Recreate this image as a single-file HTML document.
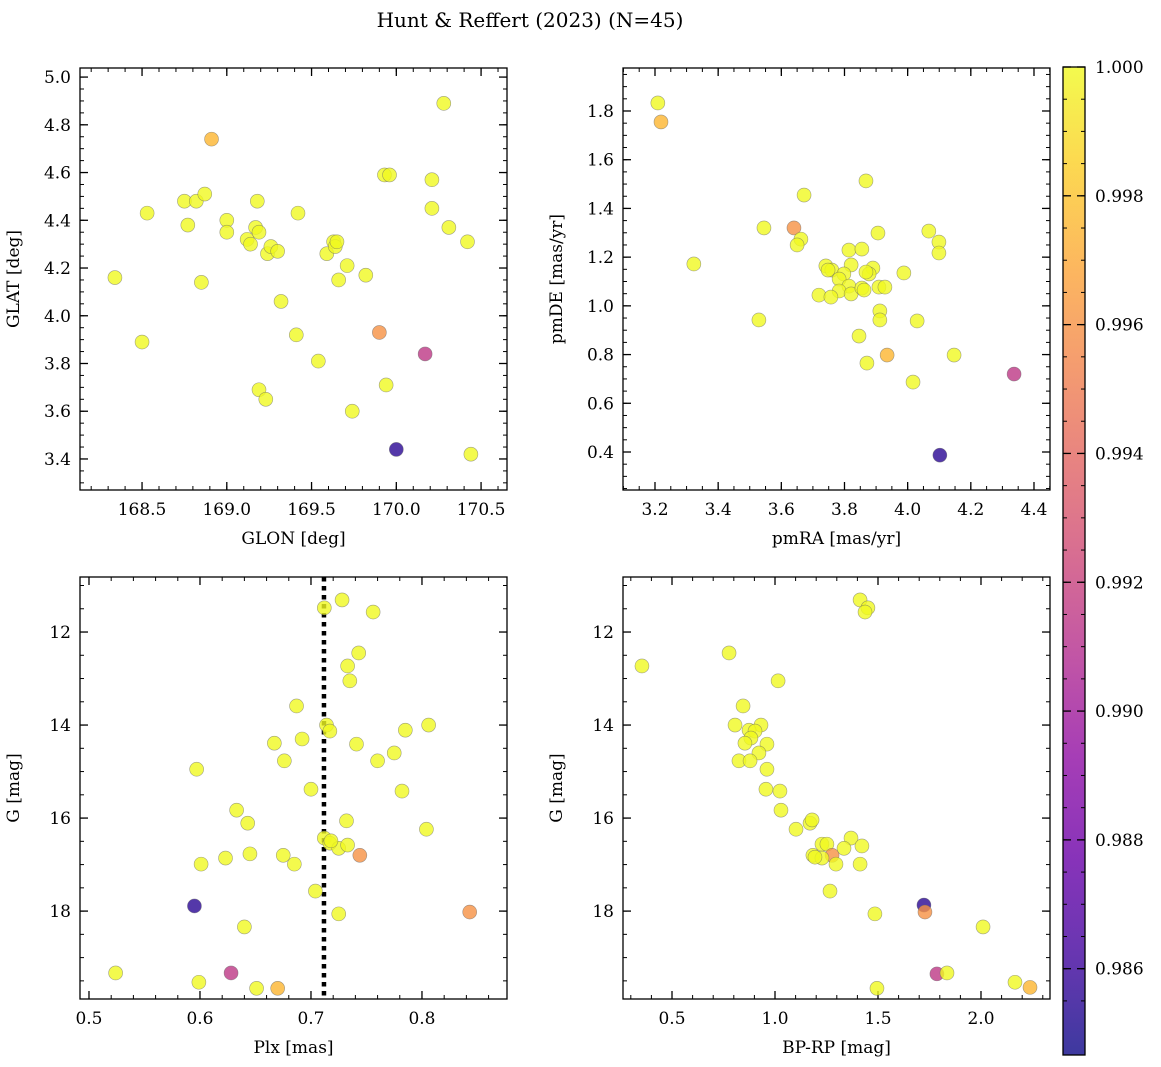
<!DOCTYPE html>
<html><head><meta charset="utf-8">
<style>
html,body{margin:0;padding:0;background:#fff;}
svg{display:block;font-family:"DejaVu Serif","Liberation Serif",serif;}
</style></head>
<body>
<svg id="chart" width="1161" height="1067" viewBox="0 0 1161 1067" xmlns="http://www.w3.org/2000/svg">
<text x="530" y="27" text-anchor="middle" font-size="20">Hunt &amp; Reffert (2023) (N=45)</text>
</svg>
<script>
// ---- data ----
const glon = [168.34,168.50,168.53,168.75,168.77,168.82,168.87,168.91,168.85,169.00,169.00,169.12,169.14,169.17,169.18,169.19,169.19,169.23,169.24,169.26,169.30,169.32,169.42,169.41,169.54,169.59,169.63,169.64,169.65,169.66,169.71,169.74,169.82,169.90,169.93,169.96,169.94,170.00,170.17,170.21,170.21,170.28,170.31,170.42,170.44];
const glat = [4.16,3.89,4.43,4.48,4.38,4.48,4.51,4.74,4.14,4.40,4.35,4.32,4.30,4.37,4.48,4.35,3.69,3.65,4.26,4.29,4.27,4.06,4.43,3.92,3.81,4.26,4.31,4.29,4.31,4.15,4.21,3.60,4.17,3.93,4.59,4.59,3.71,3.44,3.84,4.57,4.45,4.89,4.37,4.31,3.42];
const probSky = [1,1,1,1,1,1,1,0.9975,1,1,1,1,1,1,1,1,1,1,1,1,1,1,1,1,1,1,1,1,1,1,1,1,1,0.996,1,1,1,0.9855,0.9915,1,1,1,1,1,1];

const pmra = [3.209,3.219,3.868,3.672,3.545,3.640,3.662,3.650,3.906,4.067,4.099,4.099,3.323,3.814,3.855,3.741,3.760,3.821,3.798,3.783,3.890,3.878,3.988,3.814,3.783,3.821,3.719,3.757,3.855,3.862,3.909,3.928,3.912,3.912,4.030,3.529,3.846,3.935,3.871,4.147,4.017,4.337,4.102,3.748,3.868];
const pmde = [1.833,1.755,1.513,1.455,1.320,1.320,1.274,1.250,1.299,1.307,1.262,1.217,1.172,1.229,1.233,1.164,1.147,1.168,1.131,1.110,1.155,1.131,1.135,1.081,1.061,1.049,1.044,1.036,1.073,1.065,1.077,1.077,0.979,0.942,0.938,0.942,0.876,0.798,0.765,0.798,0.687,0.720,0.387,1.147,1.139];
const probPm = [1,0.9975,1,1,1,0.996,1,1,1,1,1,1,1,1,1,1,1,1,1,1,1,1,1,1,1,1,1,1,1,1,1,1,1,1,1,1,1,0.9975,1,1,1,0.9915,0.9855,1,1];

const plx = [0.524,0.595,0.597,0.601,0.599,0.623,0.628,0.633,0.640,0.643,0.645,0.651,0.667,0.670,0.675,0.676,0.685,0.687,0.692,0.700,0.704,0.712,0.712,0.714,0.717,0.717,0.725,0.725,0.728,0.732,0.733,0.733,0.735,0.741,0.744,0.743,0.756,0.760,0.775,0.782,0.785,0.806,0.804,0.843,0.718];
const gPlx = [19.33,17.89,14.95,16.99,19.53,16.86,19.33,15.83,18.34,16.11,16.77,19.66,14.39,19.66,16.80,14.77,16.99,13.59,14.30,15.38,17.57,11.48,16.43,14.00,14.13,16.54,16.65,18.06,11.31,16.06,12.73,16.58,13.05,14.41,16.80,12.45,11.57,14.77,14.60,15.42,14.11,14.00,16.24,18.02,16.49];
const probPlx = [1,0.9855,1,1,1,1,0.9915,1,1,1,1,1,1,0.9975,1,1,1,1,1,1,1,1,1,1,1,1,1,1,1,1,1,1,1,1,0.996,1,1,1,1,1,1,1,1,0.996,1];
const meanPlx = 0.7117;

const bprp = [1.413,1.451,1.437,0.777,0.354,1.015,0.845,0.806,0.932,0.874,0.903,0.883,0.854,0.961,0.922,0.825,0.879,0.961,0.956,1.024,1.029,1.170,1.180,1.102,1.228,1.252,1.369,1.335,1.422,1.184,1.277,1.228,1.296,1.413,1.267,1.485,1.723,1.728,2.010,1.786,1.835,2.165,1.495,2.238,1.194];
const gCmd = [11.31,11.48,11.57,12.45,12.73,13.05,13.59,14.00,14.00,14.11,14.13,14.28,14.39,14.41,14.60,14.77,14.77,14.95,15.38,15.42,15.83,16.11,16.04,16.24,16.56,16.56,16.43,16.65,16.60,16.80,16.80,16.86,16.99,16.99,17.57,18.06,17.87,18.02,18.34,19.35,19.33,19.53,19.66,19.64,16.84];
const probCmd = [1,1,1,1,1,1,1,1,1,1,1,1,1,1,1,1,1,1,1,1,1,1,1,1,1,1,1,1,1,1,0.996,1,1,1,1,1,0.9855,0.996,1,0.9915,1,1,1,0.9975,1];

const cbTicks = [0.986,0.988,0.990,0.992,0.994,0.996,0.998,1.000];
const vmin = 0.98466, vmax = 1.0;

// ---- helpers ----
const NS = "http://www.w3.org/2000/svg";
const svg = document.getElementById('chart');
function mk(tag, attrs, parent){const e=document.createElementNS(NS,tag);for(const k in attrs)e.setAttribute(k,attrs[k]);(parent||svg).appendChild(e);return e;}
const stops=[[0,13,8,135],[0.1,65,4,157],[0.2,106,0,168],[0.3,143,13,164],[0.4,177,42,144],[0.5,204,71,120],[0.6,225,100,98],[0.7,242,132,75],[0.8,252,166,54],[0.9,252,206,37],[1,240,249,33]];
function plasma(t){t=Math.max(0,Math.min(1,t));for(let i=1;i<stops.length;i++){if(t<=stops[i][0]){const a=stops[i-1],b=stops[i],f=(t-a[0])/(b[0]-a[0]);return `rgb(${Math.round(a[1]+f*(b[1]-a[1]))},${Math.round(a[2]+f*(b[2]-a[2]))},${Math.round(a[3]+f*(b[3]-a[3]))})`;}}return 'rgb(240,249,33)';}
function cval(v){return plasma((v-vmin)/(vmax-vmin));}

function panel(o){
  const [L,T,R,B]=o.box;
  const g=mk('g',{});
  
  
  const sx=v=>L+(v-o.xr[0])/(o.xr[1]-o.xr[0])*(R-L);
  const sy=o.invert? v=>T+(v-o.yr[0])/(o.yr[1]-o.yr[0])*(B-T) : v=>B-(v-o.yr[0])/(o.yr[1]-o.yr[0])*(B-T);
  const eps=1e-9;
  for(let v=Math.ceil(o.xr[0]/o.xminor-eps)*o.xminor; v<=o.xr[1]+eps; v+=o.xminor){const x=sx(v);
    mk('line',{x1:x,x2:x,y1:B,y2:B-4,stroke:'#000','stroke-width':1},g);mk('line',{x1:x,x2:x,y1:T,y2:T+4,stroke:'#000','stroke-width':1},g);}
  for(let v=Math.ceil(Math.min(...o.yr)/o.yminor-eps)*o.yminor; v<=Math.max(...o.yr)+eps; v+=o.yminor){const y=sy(v);
    mk('line',{x1:L,x2:L+4,y1:y,y2:y,stroke:'#000','stroke-width':1},g);mk('line',{x1:R,x2:R-4,y1:y,y2:y,stroke:'#000','stroke-width':1},g);}
  o.xticks.forEach(v=>{const x=sx(v);
    mk('line',{x1:x,x2:x,y1:B,y2:B-8,stroke:'#000','stroke-width':1.3},g);mk('line',{x1:x,x2:x,y1:T,y2:T+8,stroke:'#000','stroke-width':1.3},g);
    const t=mk('text',{x:x,y:B+25,'text-anchor':'middle','font-size':17},g);t.textContent=v.toFixed(o.xdec);
    
    
  });
  o.yticks.forEach(v=>{const y=sy(v);
    mk('line',{x1:L,x2:L+8,y1:y,y2:y,stroke:'#000','stroke-width':1.3},g);mk('line',{x1:R,x2:R-8,y1:y,y2:y,stroke:'#000','stroke-width':1.3},g);
    const t=mk('text',{x:L-9,y:y+6,'text-anchor':'end','font-size':17},g);t.textContent=v.toFixed(o.ydec);
    
    
  });
  if(o.vline!==undefined){const x=sx(o.vline);
    const l=mk('line',{x1:x,x2:x,y1:T,y2:B,stroke:'#000','stroke-width':4.5,'stroke-dasharray':'4.5,4.5'},g);
    
    
  }
  o.xs.forEach((xv,i)=>{
    const c=mk('circle',{cx:sx(xv),cy:sy(o.ys[i]),r:7,fill:cval(o.c[i]),'fill-opacity':0.8,stroke:'#666','stroke-opacity':0.6,'stroke-width':0.6},g);
    
    
  });
  const fr=mk('rect',{x:L,y:T,width:R-L,height:B-T,fill:'none',stroke:'#000','stroke-width':1.3},g);
  
  
  const xl=mk('text',{x:(L+R)/2,y:B+54,'text-anchor':'middle','font-size':17},g);xl.textContent=o.xlabel;
  
  
  const yx=L-61,yy=(T+B)/2;
  const yl=mk('text',{x:yx,y:yy,'text-anchor':'middle','font-size':17,transform:`rotate(-90 ${yx} ${yy})`},g);yl.textContent=o.ylabel;
  
  
}

panel({name:'sky-position-panel',box:[80,68,507,490],xr:[168.134,170.653],yr:[3.270,5.038],xticks:[168.5,169.0,169.5,170.0,170.5],yticks:[3.4,3.6,3.8,4.0,4.2,4.4,4.6,4.8,5.0],xminor:0.1,yminor:0.05,xdec:1,ydec:1,xs:glon,ys:glat,c:probSky,xlabel:'GLON [deg]',ylabel:'GLAT [deg]'});
panel({name:'proper-motion-panel',box:[623,68,1050,490],xr:[3.0987,4.4507],yr:[0.244,1.9765],xticks:[3.2,3.4,3.6,3.8,4.0,4.2,4.4],yticks:[0.4,0.6,0.8,1.0,1.2,1.4,1.6,1.8],xminor:0.05,yminor:0.05,xdec:1,ydec:1,xs:pmra,ys:pmde,c:probPm,xlabel:'pmRA [mas/yr]',ylabel:'pmDE [mas/yr]'});
panel({name:'parallax-magnitude-panel',box:[80,577,507,999],xr:[0.4919,0.8766],yr:[10.817,19.89],invert:true,xticks:[0.5,0.6,0.7,0.8],yticks:[12,14,16,18],xminor:0.02,yminor:0.5,xdec:1,ydec:0,xs:plx,ys:gPlx,c:probPlx,vline:meanPlx,xlabel:'Plx [mas]',ylabel:'G [mag]'});
panel({name:'color-magnitude-panel',box:[623,577,1050,999],xr:[0.2621,2.335],yr:[10.817,19.89],invert:true,xticks:[0.5,1.0,1.5,2.0],yticks:[12,14,16,18],xminor:0.1,yminor:0.5,xdec:1,ydec:0,xs:bprp,ys:gCmd,c:probCmd,xlabel:'BP-RP [mag]',ylabel:'G [mag]'});

// ---- colorbar ----
(function(){
  const L=1063,R=1085,T=67,B=1055;
  const cb=mk('g',{});
  
  
  const defs=mk('defs',{},cb);
  const lg=mk('linearGradient',{id:'cbg',x1:0,y1:1,x2:0,y2:0},defs);
  for(let i=0;i<=20;i++){mk('stop',{offset:i/20,'stop-color':plasma(i/20)},lg);}
  mk('rect',{x:L,y:T,width:R-L,height:B-T,fill:'url(#cbg)','fill-opacity':0.8},cb);
  mk('rect',{x:L,y:T,width:R-L,height:B-T,fill:'none',stroke:'#000','stroke-width':1.3},cb);
  const sy=v=>B-(v-vmin)/(vmax-vmin)*(B-T);
  for(let v=0.9855;v<=1.00001;v+=0.0005){const y=sy(v);mk('line',{x1:R,x2:R-4,y1:y,y2:y,stroke:'#000'},cb);mk('line',{x1:L,x2:L+4,y1:y,y2:y,stroke:'#000'},cb);}
  cbTicks.forEach(v=>{const y=sy(v);
    mk('line',{x1:R,x2:R-8,y1:y,y2:y,stroke:'#000','stroke-width':1.3},cb);mk('line',{x1:L,x2:L+8,y1:y,y2:y,stroke:'#000','stroke-width':1.3},cb);
    const t=mk('text',{x:R+10,y:y+6,'font-size':17},cb);t.textContent=v.toFixed(3);
    
    
  });
})();
</script>
</body></html>
